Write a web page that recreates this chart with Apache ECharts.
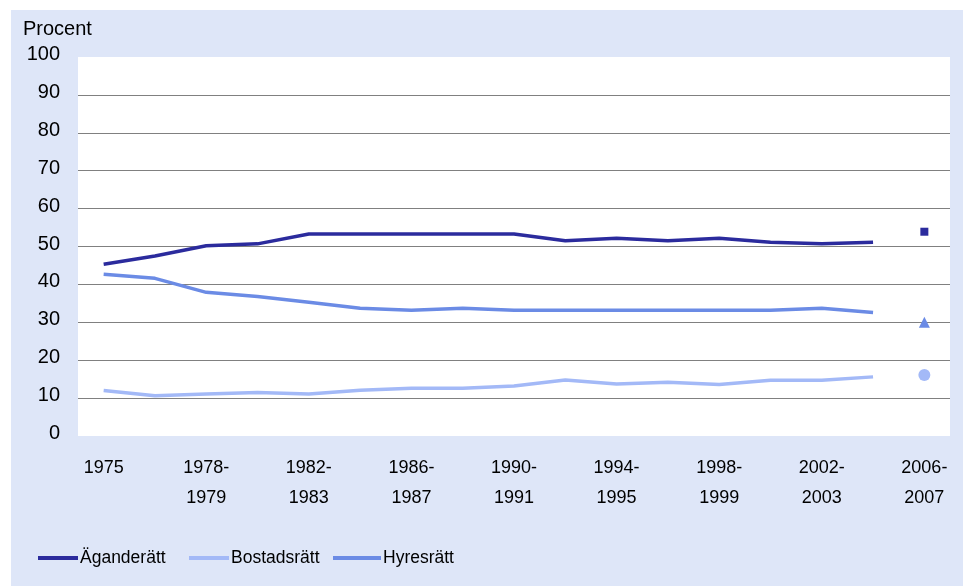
<!DOCTYPE html>
<html lang="sv">
<head>
    <meta charset="UTF-8">
    <title>Upplåtelseform</title>
    <script src="https://cdn.jsdelivr.net/npm/echarts@6/dist/echarts.min.js"></script>
    <style>
        html, body { margin: 0; padding: 0; background: #ffffff; }
        #chart { width: 963px; height: 586px; }
    </style>
</head>
<body>
<div id="chart"></div>
<script type="text/javascript">
    // kategorier (tvåårsperioder)
    const perioder = ['1975', '1976-\n1977', '1978-\n1979', '1980-\n1981', '1982-\n1983', '1984-\n1985',
        '1986-\n1987', '1988-\n1989', '1990-\n1991', '1992-\n1993', '1994-\n1995', '1996-\n1997',
        '1998-\n1999', '2000-\n2001', '2002-\n2003', '2004-\n2005', '2006-\n2007'];

    // linjer 1975 - 2004-2005 (sista perioden ritas som punkt)
    const agande = [45.3, 47.5, 50.2, 50.7, 53.3, 53.3, 53.3, 53.3, 53.3, 51.5, 52.2, 51.5, 52.2, 51.1, 50.7, 51.1, null];
    const bostad = [12.0, 10.6, 11.1, 11.5, 11.1, 12.1, 12.6, 12.6, 13.2, 14.8, 13.7, 14.2, 13.6, 14.7, 14.7, 15.6, null];
    const hyres = [42.7, 41.6, 37.9, 36.8, 35.3, 33.7, 33.2, 33.7, 33.2, 33.2, 33.2, 33.2, 33.2, 33.2, 33.7, 32.6, null];

    // 2006-2007
    const agande0607 = 53.9;
    const bostad0607 = 16.1;
    const hyres0607 = 30.0;

    const yTicks = [0, 10, 20, 30, 40, 50, 60, 70, 80, 90, 100];

    const morkBla = '#2b2b9d';
    const ljusBla = '#a3b9f7';
    const mellanBla = '#6b8be5';
    const font = '"Liberation Sans", Arial, sans-serif';

    function punkt(v) {
        return perioder.map((p, i) => i === perioder.length - 1 ? v : null);
    }

    // rutnätslinjer: ingen linje vid 0 och 100
    const gridColors = yTicks.map(t => (t === 0 || t === 100) ? 'rgba(0,0,0,0)' : '#808080');

    const legendStyle = {
        orient: 'horizontal',
        top: 549,
        padding: 0,
        icon: 'rect',
        itemWidth: 40,
        itemHeight: 4,
        textStyle: { fontFamily: font, fontSize: 17.5, color: '#000', padding: [0, 0, 0, -3] }
    };

    let myChart = echarts.init(document.getElementById('chart'));
    myChart.setOption({
        backgroundColor: '#ffffff',
        animation: false,
        textStyle: { fontFamily: font },
        graphic: [
            {
                type: 'rect', left: 11, top: 10, z: -10,
                shape: { width: 952, height: 576 },
                style: { fill: '#dee6f8' }
            },
            {
                type: 'text', left: 23, top: 19,
                style: { text: 'Procent', font: '20px ' + font, fill: '#000' }
            }
        ],
        grid: {
            left: 78, right: 13, top: 57, bottom: 150,
            show: true, backgroundColor: '#ffffff', borderWidth: 0
        },
        legend: [
            Object.assign({}, legendStyle, { left: 38, data: ['Äganderätt'] }),
            Object.assign({}, legendStyle, { left: 189, data: ['Bostadsrätt'] }),
            Object.assign({}, legendStyle, { left: 333, data: ['Hyresrätt'], itemWidth: 48 })
        ],
        xAxis: {
            type: 'category',
            data: perioder,
            boundaryGap: true,
            axisLine: { show: false },
            axisTick: { show: false },
            axisLabel: {
                interval: 1,
                margin: 17,
                fontFamily: font,
                fontSize: 18,
                lineHeight: 30,
                color: '#000'
            }
        },
        yAxis: {
            type: 'value',
            min: 0,
            max: 100,
            interval: 10,
            axisLine: { show: false },
            axisTick: { show: false },
            axisLabel: {
                margin: 18,
                color: '#000',
                formatter: '{v|{value}}',
                rich: {
                    v: { fontFamily: font, fontSize: 20, color: '#000', padding: [0, 0, 5, 0] }
                }
            },
            splitLine: { lineStyle: { color: gridColors, width: 1 } }
        },
        series: [
            {
                name: 'Äganderätt', type: 'line', data: agande, symbol: 'none',
                lineStyle: { color: morkBla, width: 3.5 }, itemStyle: { color: morkBla }
            },
            {
                name: 'Bostadsrätt', type: 'line', data: bostad, symbol: 'none',
                lineStyle: { color: ljusBla, width: 3.5 }, itemStyle: { color: ljusBla }
            },
            {
                name: 'Hyresrätt', type: 'line', data: hyres, symbol: 'none',
                lineStyle: { color: mellanBla, width: 3.5 }, itemStyle: { color: mellanBla }
            },
            {
                name: 'Äganderätt 2006-2007', type: 'scatter', data: punkt(agande0607),
                symbol: 'rect', symbolSize: 8, itemStyle: { color: morkBla, opacity: 1 }
            },
            {
                name: 'Bostadsrätt 2006-2007', type: 'scatter', data: punkt(bostad0607),
                symbol: 'circle', symbolSize: 12, itemStyle: { color: ljusBla, opacity: 1 }
            },
            {
                name: 'Hyresrätt 2006-2007', type: 'scatter', data: punkt(hyres0607),
                symbol: 'triangle', symbolSize: 11, itemStyle: { color: mellanBla, opacity: 1 }
            }
        ]
    });
</script>
</body>
</html>
